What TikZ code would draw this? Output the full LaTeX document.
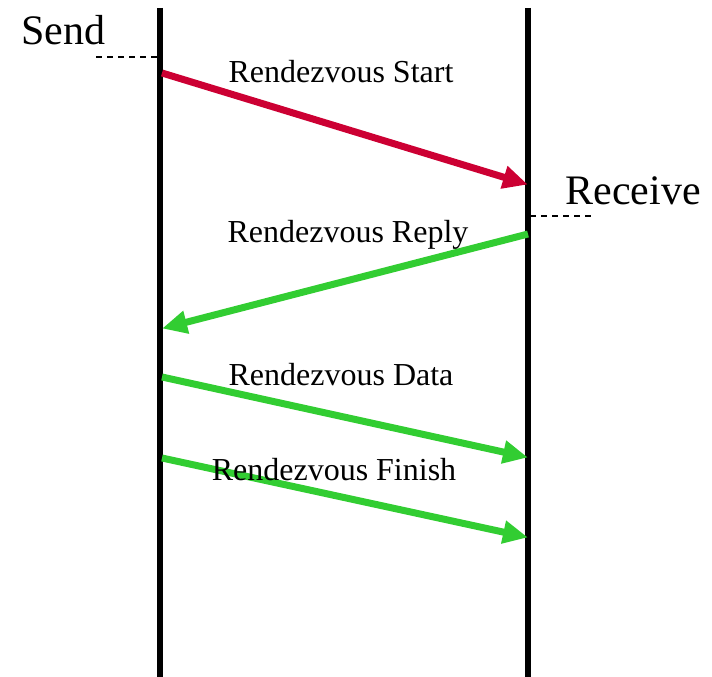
\documentclass[tikz,border=0pt]{standalone}
\usepackage{fontspec}
\setmainfont{Liberation Serif}
\usetikzlibrary{arrows.meta}
\definecolor{startred}{RGB}{204,0,51}
\definecolor{msggreen}{RGB}{50,205,50}
\tikzstyle{lifeline} = [draw=black, line width=6.5pt]
\tikzstyle{msg} = [line width=7pt, -{Triangle[length=25pt,width=22pt]}, shorten >=-2pt]
\tikzstyle{marker} = [draw=black, line width=1.2pt, dash pattern=on 6pt off 5pt]
\tikzstyle{sidetitle} = [inner sep=0pt, anchor=base, font=\fontsize{42}{42}\selectfont]
\tikzstyle{msglabel} = [inner sep=0pt, anchor=base, font=\fontsize{32}{32}\selectfont]

\begin{document}
\begin{tikzpicture}[x=1pt, y=-1pt]
                \useasboundingbox (0,0) rectangle (712,677);
                % lifelines
                \coordinate (sendtop) at (160,8);
                \coordinate (sendbot) at (160,677);
                \coordinate (recvtop) at (528,8);
                \coordinate (recvbot) at (528,677);
                \draw[lifeline] (sendtop) -- (sendbot);
                \draw[lifeline] (recvtop) -- (recvbot);

                % titles and markers
                \node[sidetitle] (send) at (63,45) {Send};
                \node[sidetitle] (receive) at (633,204) {Receive};
                \coordinate (sendmark) at (96,57);
                \coordinate (sendhook) at (160,57);
                \coordinate (recvmark) at (592,216);
                \coordinate (recvhook) at (530,216);
                \draw[marker] (sendmark) -- (sendhook);
                \draw[marker] (recvhook) -- (recvmark);

                % message end points
                \coordinate (start1) at (162,73);
                \coordinate (start2) at (526,184);
                \coordinate (reply1) at (528,234);
                \coordinate (reply2) at (164,328);
                \coordinate (data1) at (162,377);
                \coordinate (data2) at (526,457);
                \coordinate (finish1) at (162,458);
                \coordinate (finish2) at (526,537);

                \draw[msg, startred] (start1) -- (start2);
                \draw[msg, msggreen] (reply1) -- (reply2);
                \draw[msg, msggreen] (data1) -- (data2);
                \draw[msg, msggreen] (finish1) -- (finish2);

                \node[msglabel] (startlbl) at (341,82) {Rendezvous Start};
                \node[msglabel] (replylbl) at (348,242) {Rendezvous Reply};
                \node[msglabel] (datalbl) at (341,385) {Rendezvous Data};
                \node[msglabel] (finishlbl) at (334,480) {Rendezvous Finish};
            \end{tikzpicture}
\end{document}
